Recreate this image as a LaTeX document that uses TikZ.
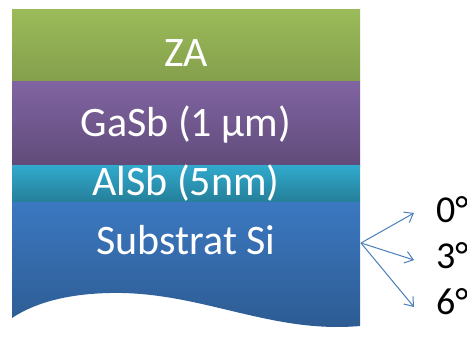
\documentclass[tikz,border=0pt]{standalone}
\usepackage{fontspec}
\setmainfont{Carlito}
\usetikzlibrary{arrows.meta,positioning}

\definecolor{zagreen}{HTML}{9BBB59}
\definecolor{gasbpurple}{HTML}{8064A2}
\definecolor{alsbcyan}{HTML}{31A9CC}
\definecolor{siblue}{HTML}{3B78C0}
\definecolor{arrowblue}{HTML}{4A7EBB}

\begin{document}
\begin{tikzpicture}[x=1pt, y=-1pt,
  layer/.style={draw=none, minimum width=348pt, inner sep=0pt, outer sep=0pt},
  lbl/.style={font=\fontsize{42}{46}\selectfont, text=white, anchor=base, inner sep=0pt},
  angl/.style={font=\fontsize{38}{42}\selectfont, text=black, anchor=west, inner sep=0pt},
  tiltarrow/.style={arrowblue, line width=1pt, -{Straight Barb[length=8pt, width=12pt]}}]

\useasboundingbox (0,0) rectangle (467,344);

% layers
\node[layer, minimum height=72pt, top color=zagreen, bottom color=zagreen!85!black] (za) at (186,46) {};
\node[layer, minimum height=84pt, top color=gasbpurple, bottom color=gasbpurple!75!black] (gasb) at (186,124) {};
\node[layer, minimum height=36pt, top color=alsbcyan, bottom color=alsbcyan!75!black] (alsb) at (186,184) {};

% substrate with wavy bottom
\shade[top color=siblue, bottom color=siblue!75!black]
  (12,202) -- (360,202) -- (360,326)
  .. controls (270,334) and (200,291) .. (110,293)
  .. controls (60,294) and (30,306) .. (12,318) -- cycle;

\node[lbl] (zatxt) at (186,67) {ZA};
\node[lbl] (gasbtxt) at (186,137) {GaSb (1 µm)};
\node[lbl] (alsbtxt) at (186,196) {AlSb (5nm)};
\node[lbl] (sitxt) at (186,255) {Substrat Si};

% tilt angles
\coordinate (src) at (361,243);
\node[angl] (a0) at (436,210) {0°};
\node[angl] (a3) at (436,256) {3°};
\node[angl] (a6) at (436,302) {6°};
\coordinate (e0) at (414,213);
\coordinate (e3) at (414,260);
\coordinate (e6) at (414,307);

\foreach \e in {e0,e3,e6} {\draw[tiltarrow] (src) -- (\e);}

\end{tikzpicture}
\end{document}
